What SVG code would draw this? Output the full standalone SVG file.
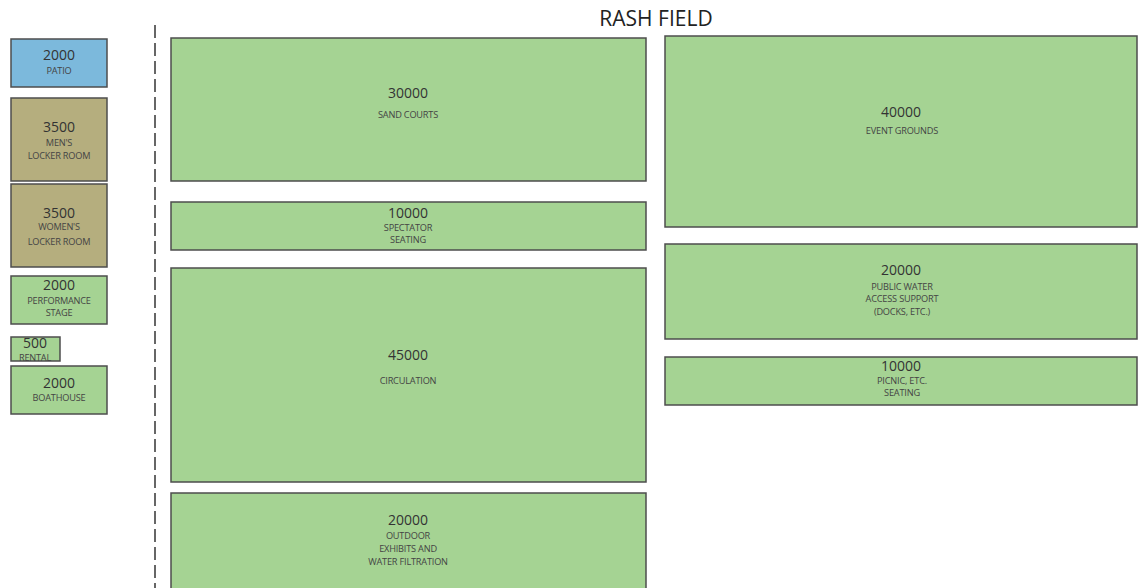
<svg xmlns="http://www.w3.org/2000/svg" width="1139" height="588" viewBox="0 0 1139 588">
<style>
.g{fill:#a5d393;stroke:#4d4d4d;stroke-width:1.5}
.b{fill:#7cb9dc;stroke:#4d4d4d;stroke-width:1.5}
.k{fill:#b5ae7e;stroke:#4d4d4d;stroke-width:1.5}
text{font-family:"Open Sans","Liberation Sans",sans-serif;fill:#333;text-anchor:middle}
.n{font-size:14px}
.l{font-size:9.2px;fill:#444;letter-spacing:-0.2px}
.t{font-size:21px;fill:#222}
</style>
<rect width="1139" height="588" fill="#fff"/>
<text class="t" x="656" y="26">RASH FIELD</text>
<g id="divider"><line x1="155" y1="25" x2="155" y2="588" stroke="#666" stroke-width="2" stroke-dasharray="13,5"/></g>
<g id="patio"><rect class="b" x="11" y="39" width="96" height="48"/><text class="n" x="59" y="60">2000</text><text class="l" x="59" y="74">PATIO</text></g>
<g id="mens"><rect class="k" x="11" y="98" width="96" height="83"/><text class="n" x="59" y="132">3500</text><text class="l" x="59" y="146">MEN'S</text><text class="l" x="59" y="159">LOCKER ROOM</text></g>
<g id="womens"><rect class="k" x="11" y="184" width="96" height="83"/><text class="n" x="59" y="218">3500</text><text class="l" x="59" y="230">WOMEN'S</text><text class="l" x="59" y="245">LOCKER ROOM</text></g>
<g id="stage"><rect class="g" x="11" y="276" width="96" height="48"/><text class="n" x="59" y="290">2000</text><text class="l" x="59" y="304">PERFORMANCE</text><text class="l" x="59" y="316">STAGE</text></g>
<g id="rental"><rect class="g" x="11" y="337" width="49" height="24"/><text class="n" x="35" y="348">500</text><text class="l" x="35" y="361">RENTAL</text></g>
<g id="boathouse"><rect class="g" x="11" y="366" width="96" height="48"/><text class="n" x="59" y="388">2000</text><text class="l" x="59" y="401">BOATHOUSE</text></g>
<g id="sand"><rect class="g" x="171" y="38" width="475" height="143"/><text class="n" x="408" y="98">30000</text><text class="l" x="408" y="118">SAND COURTS</text></g>
<g id="spectator"><rect class="g" x="171" y="202" width="475" height="48"/><text class="n" x="408" y="218">10000</text><text class="l" x="408" y="231">SPECTATOR</text><text class="l" x="408" y="243">SEATING</text></g>
<g id="circulation"><rect class="g" x="171" y="268" width="475" height="214"/><text class="n" x="408" y="360">45000</text><text class="l" x="408" y="384">CIRCULATION</text></g>
<g id="outdoor"><rect class="g" x="171" y="493" width="475" height="100"/><text class="n" x="408" y="525">20000</text><text class="l" x="408" y="539">OUTDOOR</text><text class="l" x="408" y="552">EXHIBITS AND</text><text class="l" x="408" y="565">WATER FILTRATION</text></g>
<g id="event"><rect class="g" x="665" y="36" width="472" height="191"/><text class="n" x="901" y="117">40000</text><text class="l" x="902" y="134">EVENT GROUNDS</text></g>
<g id="water"><rect class="g" x="665" y="244" width="472" height="95"/><text class="n" x="901" y="275">20000</text><text class="l" x="902" y="290">PUBLIC WATER</text><text class="l" x="902" y="302">ACCESS SUPPORT</text><text class="l" x="902" y="315">(DOCKS, ETC.)</text></g>
<g id="picnic"><rect class="g" x="665" y="357" width="472" height="48"/><text class="n" x="901" y="371">10000</text><text class="l" x="902" y="384">PICNIC, ETC.</text><text class="l" x="902" y="396">SEATING</text></g>
</svg>
